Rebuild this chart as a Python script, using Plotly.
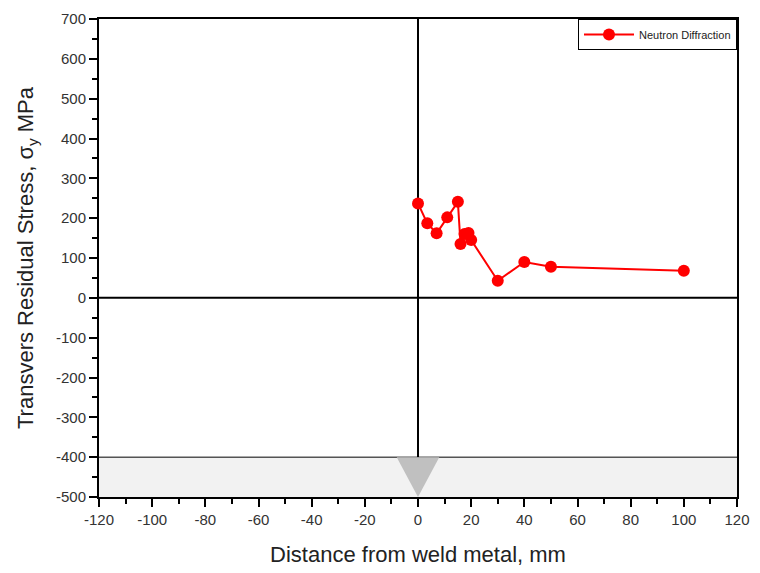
import plotly.graph_objects as go

# Neutron diffraction measurements of transverse residual stress
distance_mm = [0, 3.5, 7, 11, 15, 16, 17.5, 19, 20, 30, 40, 50, 100]
stress_mpa = [237, 187, 162, 202, 241, 135, 160, 163, 145, 43, 90, 78, 68]

x_ticks = list(range(-120, 121, 20))
y_ticks = list(range(-500, 701, 100))
x_labels = [str(v) for v in x_ticks]
y_labels = [str(v) for v in y_ticks]

fig = go.Figure()
fig.add_trace(go.Scatter(
    x=distance_mm, y=stress_mpa, mode="lines+markers",
    name="Neutron Diffraction",
    line=dict(color="#ff0000", width=2),
    marker=dict(color="#ff0000", size=12, symbol="circle"),
))

# Weld plate band and weld groove marker
fig.add_shape(type="rect", x0=-120, x1=120, y0=-500, y1=-400,
              fillcolor="#f2f2f2", line=dict(width=0), layer="below")
fig.add_shape(type="line", x0=-120, x1=120, y0=-400, y1=-400,
              line=dict(color="black", width=1))
fig.add_shape(type="path", path="M -8,-400 L 8,-400 L 0,-500 Z",
              fillcolor="#c0c0c0", line=dict(width=0))
# Reference axes through the origin
fig.add_shape(type="line", x0=0, x1=0, y0=-400, y1=700,
              line=dict(color="black", width=2), layer="below")
fig.add_shape(type="line", x0=-120, x1=120, y0=0, y1=0,
              line=dict(color="black", width=2), layer="below")

font_family = "Liberation Sans, Arial"
axis_common = dict(
    showgrid=False, zeroline=False, showline=True, linecolor="black",
    linewidth=2, mirror=True, ticks="outside", ticklen=8, tickwidth=2,
    tickcolor="black", tickfont=dict(family=font_family, size=15, color="#333"),
)
fig.update_xaxes(range=[-120, 120], tickvals=x_ticks, ticktext=x_labels,
                 minor=dict(dtick=10, ticks="outside", ticklen=5, tickwidth=2, tickcolor="black"),
                 title=dict(text="Distance from weld metal, mm", standoff=20,
                            font=dict(family=font_family, size=22, color="#222")),
                 **axis_common)
fig.update_yaxes(range=[-500, 700], tickvals=y_ticks, ticktext=y_labels,
                 minor=dict(dtick=50, ticks="outside", ticklen=5, tickwidth=2, tickcolor="black"),
                 title=dict(text="Transvers Residual Stress, σ<sub>y</sub> MPa", standoff=16,
                            font=dict(family=font_family, size=22, color="#222")),
                 **axis_common)

fig.update_layout(
    width=760, height=573,
    margin=dict(l=99, r=13, t=10, b=75),
    plot_bgcolor="white", paper_bgcolor="white",
    legend=dict(x=1, y=1, xanchor="right", yanchor="top",
                bordercolor="black", borderwidth=1, bgcolor="white",
                font=dict(family=font_family, size=11, color="#222"),
                itemwidth=50),
    showlegend=True,
)

fig.write_html("out.html")
